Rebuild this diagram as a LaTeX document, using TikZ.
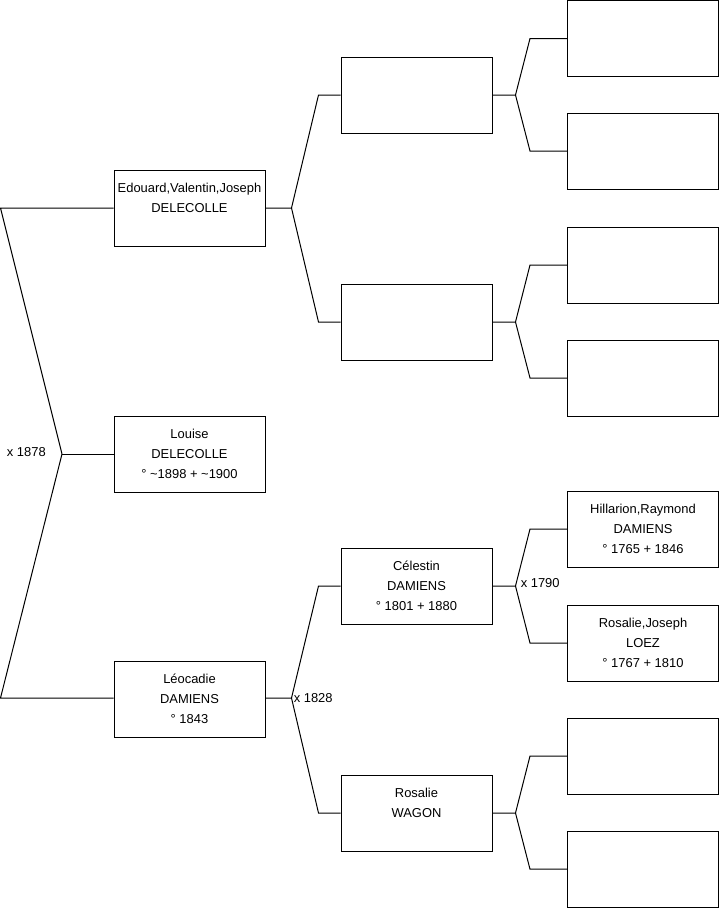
\documentclass[tikz,border=0pt]{standalone}
\usepackage{fontspec}
\setmainfont{Liberation Sans}
\usetikzlibrary{positioning,calc}

\begin{document}
\begin{tikzpicture}[
    x=0.75pt, y=-0.75pt,
    person/.style={rectangle, draw=black, line width=0.75pt, fill=white, align=center, minimum width=113.25pt, minimum height=57pt, inner sep=0pt, font=\fontsize{9.7}{15}\selectfont},
    link/.style={draw=black, line width=0.75pt},
    union/.style={inner sep=0pt, font=\fontsize{9.7}{12}\selectfont}
]
    \useasboundingbox (0,0) rectangle (719,908);

    % child
    \node [person] (louise) at (189.5,454) {Louise\\DELECOLLE\\° \textasciitilde1898 + \textasciitilde1900};

    % parents
    \node [person] (edouard) at (189.5,208) {Edouard,Valentin,Joseph\\DELECOLLE\\\mbox{}};
    \node [person] (leocadie) at (189.5,699) {Léocadie\\DAMIENS\\° 1843};

    % grandparents
    \node [person] (edfather) at (416.5,95) {};
    \node [person] (edmother) at (416.5,322) {};
    \node [person] (celestin) at (416.5,586) {Célestin\\DAMIENS\\° 1801 + 1880};
    \node [person] (wagon) at (416.5,813) {Rosalie\\WAGON\\\mbox{}};

    % great-grandparents
    \node [person] (edff) at (643,38.5) {};
    \node [person] (edfm) at (643,151) {};
    \node [person] (edmf) at (643,265) {};
    \node [person] (edmm) at (643,378) {};
    \node [person] (hillarion) at (643,529) {Hillarion,Raymond\\DAMIENS\\° 1765 + 1846};
    \node [person] (loez) at (643,643) {Rosalie,Joseph\\LOEZ\\° 1767 + 1810};
    \node [person] (wagonf) at (643,756) {};
    \node [person] (wagonm) at (643,869.2) {};

    % louise
    \coordinate (fork1878) at (62,454);
    \draw [link] (louise.west) -- (fork1878);
    \draw [link] (fork1878) -- ($(edouard.west)+(-113,0)$) -- (edouard.west);
    \draw [link] (fork1878) -- ($(leocadie.west)+(-113,-1)$) -- ([yshift=0.75pt]leocadie.west);
    \node [union, anchor=east] (m1878) at ($(fork1878)+(-16,-2)$) {x 1878};

    % edouard
    \draw [link] (edouard.east) -- ++(26,0) coordinate (forked)
        -- ($(edfather.west)+(-22,0)$) -- (edfather.west);
    \draw [link] (forked) -- ($(edmother.west)+(-22,0)$) -- (edmother.west);

    % leocadie
    \draw [link] ([yshift=0.75pt]leocadie.east) -- ++(26,0) coordinate (fork1828)
        -- ($(celestin.west)+(-22,0)$) -- (celestin.west);
    \draw [link] (fork1828) -- ($(wagon.west)+(-22,0)$) -- (wagon.west);
    \node [union, anchor=west] (m1828) at ($(fork1828)+(2,0)$) {x 1828};

    % third generation
    \draw [link] (edfather.east) -- ++(23,0) coordinate (forkef)
        -- ($(edff.west)+(-37,0)$) -- (edff.west);
    \draw [link] (forkef) -- ($(edfm.west)+(-37,0)$) -- (edfm.west);
    \draw [link] (edmother.east) -- ++(23,0) coordinate (forkem)
        -- ($(edmf.west)+(-37,0)$) -- (edmf.west);
    \draw [link] (forkem) -- ($(edmm.west)+(-37,0)$) -- (edmm.west);
    \draw [link] (celestin.east) -- ++(23,0) coordinate (fork1790)
        -- ($(hillarion.west)+(-37,0)$) -- (hillarion.west);
    \draw [link] (fork1790) -- ($(loez.west)+(-37,0)$) -- (loez.west);
    \node [union, anchor=west] (m1790) at ($(fork1790)+(5,-3)$) {x 1790};
    \draw [link] (wagon.east) -- ++(23,0) coordinate (forkwa)
        -- ($(wagonf.west)+(-37,0)$) -- (wagonf.west);
    \draw [link] (forkwa) -- ($(wagonm.west)+(-37,0)$) -- (wagonm.west);
\end{tikzpicture}
\end{document}
